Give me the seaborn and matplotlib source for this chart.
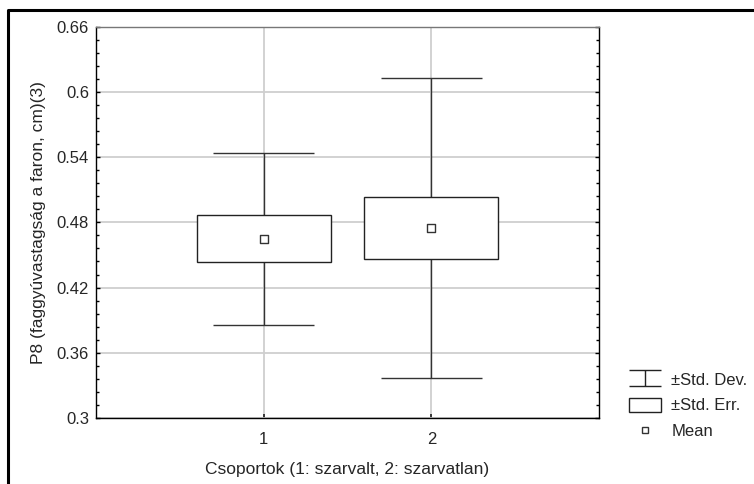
"""Mean, standard error and standard deviation plot for two groups (Statistica style)."""

import matplotlib

matplotlib.use("Agg")

import matplotlib.pyplot as plt
import pandas as pd
import seaborn as sns
from matplotlib.lines import Line2D
from matplotlib.patches import Patch
from matplotlib.path import Path
from matplotlib.ticker import AutoMinorLocator, FormatStrFormatter, MultipleLocator


groups = [1, 2]
group_labels = ["1", "2"]
means = [0.465, 0.475]
std_err = [0.0217, 0.0287]
std_dev = [0.079, 0.138]

y_label = "P8 (faggyúvastagság a faron, cm)(3)"
x_label = "Csoportok (1: szarvalt, 2: szarvatlan)"
legend_labels = ["±Std. Dev.", "±Std. Err.", "Mean"]

FONT_SIZE = 12


sns.set_theme(style="white")
plt.rcParams["font.family"] = ["Liberation Sans", "DejaVu Sans"]
plt.rcParams["font.size"] = FONT_SIZE


def main() -> None:
    df = pd.DataFrame(
        {"group": groups, "mean": means, "se": std_err, "sd": std_dev}
    )

    fig = plt.figure(figsize=(7.54, 4.84), dpi=100)
    ax = fig.add_axes([96 / 754, 1 - 418 / 484, (599 - 96) / 754, (418 - 26.7) / 484])

    # Whiskers: mean +/- standard deviation, with caps.
    ax.vlines(df["group"], df["mean"] - df["sd"], df["mean"] + df["sd"],
              color="#333333", lw=1.0, zorder=2)
    ax.hlines(df["mean"] - df["sd"], df["group"] - 0.3, df["group"] + 0.3,
              color="#333333", lw=1.0, zorder=2)
    ax.hlines(df["mean"] + df["sd"], df["group"] - 0.3, df["group"] + 0.3,
              color="#333333", lw=1.0, zorder=2)

    # Boxes: mean +/- standard error.
    ax.bar(df["group"], 2 * df["se"], bottom=df["mean"] - df["se"], width=0.8,
           facecolor="white", edgecolor="#222222", linewidth=1.0, zorder=3)

    sns.scatterplot(data=df, x="group", y="mean", marker="s", s=30,
                    facecolor="white", edgecolor="#333333", linewidth=1.0,
                    zorder=4, ax=ax)

    ax.set_xlim(0, 3)
    ax.set_ylim(0.3, 0.66)
    ax.set_xticks(groups)
    ax.set_xticklabels(group_labels)
    ax.yaxis.set_major_locator(MultipleLocator(0.06))
    ax.yaxis.set_major_formatter(FormatStrFormatter("%g"))
    ax.yaxis.set_minor_locator(AutoMinorLocator(5))
    ax.tick_params(axis="y", which="both", direction="in", left=True, right=True,
                   labelsize=FONT_SIZE, color="black", pad=5)
    ax.tick_params(axis="y", which="major", length=3, width=1)
    ax.tick_params(axis="y", which="minor", length=2.5, width=1)
    ax.tick_params(axis="x", direction="in", bottom=True, length=3,
                   labelsize=FONT_SIZE, pad=10)

    ax.grid(True, which="major", color="#cfcfcf", lw=1.3, zorder=0)
    ax.set_axisbelow(True)
    for spine in ax.spines.values():
        spine.set_color("black")
        spine.set_linewidth(1.0)
    ax.spines["top"].set_color("#777777")

    ax.set_xlabel(x_label, fontsize=12.5, labelpad=11)
    ax.set_ylabel(y_label, fontsize=12.5, labelpad=8)

    # Legend with Statistica-like symbols.
    i_shape = Path(
        [(-1, 0.5), (1, 0.5), (0, 0.5), (0, -0.5), (-1, -0.5), (1, -0.5)],
        [Path.MOVETO, Path.LINETO, Path.MOVETO, Path.LINETO, Path.MOVETO, Path.LINETO],
    )
    handles = [
        Line2D([], [], ls="none", marker=i_shape, ms=23, mfc="none",
               mec="#222222", mew=1.0),
        Patch(facecolor="white", edgecolor="#222222", linewidth=1.0),
        Line2D([], [], ls="none", marker="s", ms=5, mfc="white",
               mec="#333333", mew=1.0),
    ]
    fig.legend(handles, legend_labels, loc="upper left",
               bbox_to_anchor=(617 / 754, 1 - 360 / 484), frameon=False,
               fontsize=FONT_SIZE, handlelength=1.95, handleheight=0.95,
               handletextpad=0.6, labelspacing=0.6, borderpad=0.2)

    # Partial outer frame as in the source image.
    fig.add_artist(Line2D([8 / 754, 8 / 754, 1.0], [0.0, 1 - 10 / 484, 1 - 10 / 484],
                          transform=fig.transFigure, color="black", lw=2.2))

    fig.savefig("out.png", dpi=100)
    plt.close(fig)


if __name__ == "__main__":
    main()
